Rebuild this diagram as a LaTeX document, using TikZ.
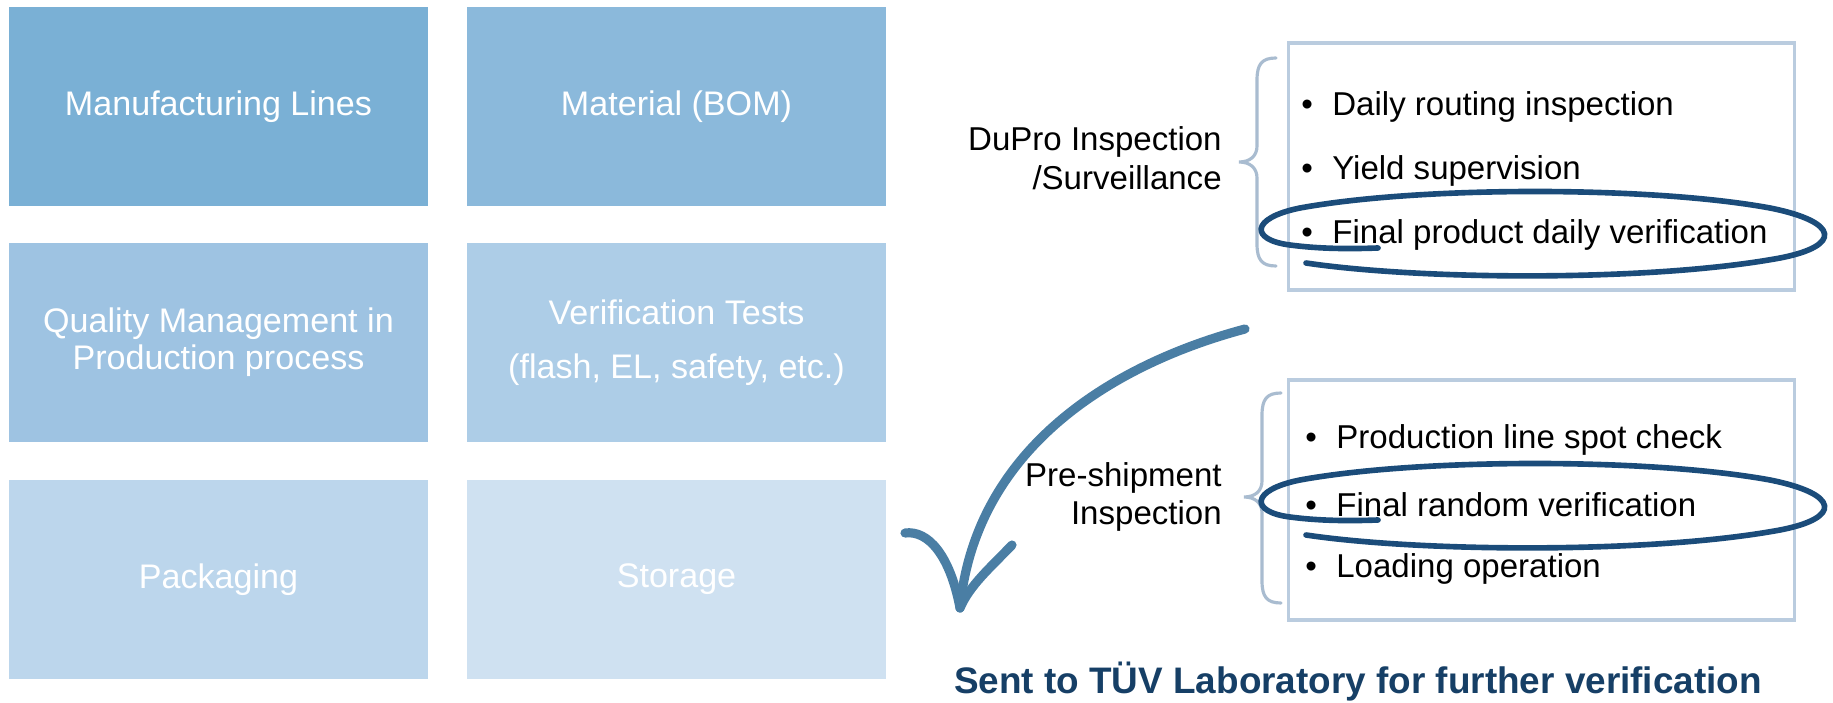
\documentclass[tikz,border=0pt]{standalone}
\usepackage{fontspec}
\setmainfont{Liberation Sans}
\usetikzlibrary{positioning}
\definecolor{tileA}{HTML}{7AB0D5}
\definecolor{tileB}{HTML}{8BB9DB}
\definecolor{tileC}{HTML}{9EC3E2}
\definecolor{tileD}{HTML}{ADCDE7}
\definecolor{tileE}{HTML}{BCD6EC}
\definecolor{tileF}{HTML}{CFE1F1}
\definecolor{qcframe}{HTML}{BACCDF}
\definecolor{qcbrace}{HTML}{A9BCD0}
\definecolor{qcarrow}{HTML}{4A7EA4}
\definecolor{qcring}{HTML}{1B4C7A}
\definecolor{qctitle}{HTML}{163F66}

\begin{document}
\begin{tikzpicture}[
    x=0.2mm,
    y=-0.2mm,
    tile/.style={rectangle, minimum width=83.8mm, minimum height=39.8mm, inner sep=0pt, text=white, align=center, font=\fontsize{19.4}{21}\selectfont},
    frame/.style={rectangle, draw=qcframe, line width=1.9pt, minimum width=101.2mm, inner sep=0pt},
    item/.style={anchor=west, inner sep=0pt, font=\fontsize{18.8}{22}\selectfont},
    grp/.style={anchor=east, align=right, inner sep=0pt, font=\fontsize{18.8}{22}\selectfont},
    brace/.style={draw=qcbrace, line width=1.8pt, line cap=round},
    ring/.style={draw=qcring, line width=3.2pt, line cap=round},
    swoosh/.style={draw=qcarrow, line width=5.2pt, line cap=round}
  ]
    \useasboundingbox (0,0) rectangle (1833,703);

    % production stages
    \node[tile, fill=tileA] (lines) at (218.5,107) {Manufacturing Lines};
    \node[tile, fill=tileB] (bom) at (676.5,107) {Material (BOM)};
    \node[tile, fill=tileC] (qm) at (218.5,342.5) {Quality Management in\\Production process};
    \node[tile, fill=tileD] (tests) at (676.5,342.5) {Verification Tests\\[9.7pt](flash, EL, safety, etc.)};
    \node[tile, fill=tileE] (pack) at (218.5,579.5) {Packaging};
    \node[tile, fill=tileF] (store) at (676.5,579.5) {Storage};

    % inspection groups
    \node[frame, minimum height=49.4mm] (dupro) at (1541.5,166.5) {};
    \node[frame, minimum height=48mm] (preship) at (1541.5,500) {};

    \node[grp] (duprolab) at (1222,158) {DuPro Inspection\\/Surveillance};
    \node[grp] (preshiplab) at (1222,497) {Pre-shipment\\Inspection};

    \draw[brace] (1276,58) .. controls (1262,58) and (1257,64) .. (1257,80) -- (1257,146)
      .. controls (1257,156) and (1250,162) .. (1239,162)
      .. controls (1250,162) and (1257,168) .. (1257,178) -- (1257,244)
      .. controls (1257,260) and (1262,266) .. (1276,266);
    \draw[brace] (1281,393) .. controls (1267,393) and (1262,399) .. (1262,415) -- (1262,481)
      .. controls (1262,491) and (1255,497) .. (1244,497)
      .. controls (1255,497) and (1262,503) .. (1262,513) -- (1262,581)
      .. controls (1262,597) and (1267,603) .. (1281,603);

    \node[item] (d1) at (1301,107) {\makebox[6.2mm][l]{•}Daily routing inspection};
    \node[item] (d2) at (1301,171) {\makebox[6.2mm][l]{•}Yield supervision};
    \node[item] (d3) at (1301,235) {\makebox[6.2mm][l]{•}Final product daily verification};
    \node[item] (p1) at (1305,440) {\makebox[6.2mm][l]{•}Production line spot check};
    \node[item] (p2) at (1305,505) {\makebox[6.2mm][l]{•}Final random verification};
    \node[item] (p3) at (1305,569) {\makebox[6.2mm][l]{•}Loading operation};

    % hand-drawn rings
    \foreach \dy in {0,272} {
      \draw[ring, shift={(0,\dy)}] (1306,263) .. controls (1420,280) and (1650,282) .. (1780,258)
        .. controls (1842,246) and (1840,222) .. (1770,208)
        .. controls (1650,186) and (1420,186) .. (1300,208)
        .. controls (1250,218) and (1250,240) .. (1290,245)
        .. controls (1320,249) and (1350,249) .. (1378,248);
    }

    % arrow down to the lab
    \coordinate (arrS) at (1245,329);
    \coordinate (arrT) at (960,608);
    \coordinate (barbL) at (905,533);
    \coordinate (barbR) at (1012,545);
    \draw[swoosh] (arrS) .. controls (1110,365) and (975,450) .. (arrT);
    \draw[swoosh] (barbL) .. controls (928,530) and (950,555) .. (arrT);
    \draw[swoosh] (barbR) .. controls (990,568) and (970,585) .. (arrT);

    \node[font=\bfseries\fontsize{21}{25}\selectfont, text=qctitle] (lab) at (1358,682) {Sent to TÜV Laboratory for further verification};
  \end{tikzpicture}
\end{document}
